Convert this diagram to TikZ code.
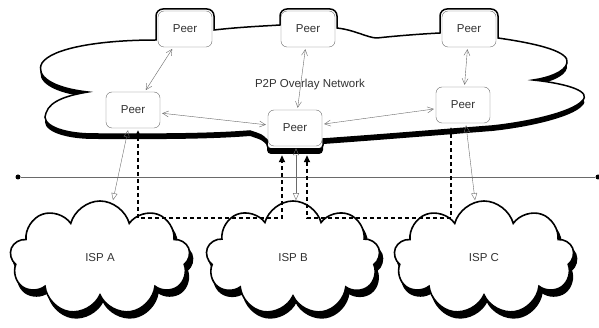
\documentclass[tikz,border=0pt]{standalone}
\usepackage{fontspec}
\setmainfont{Liberation Sans}
\usetikzlibrary{arrows.meta,shapes.symbols}

\definecolor{linkgray}{HTML}{6A6A6A}
\definecolor{textgray}{HTML}{333333}

\tikzset{
  peer/.style={draw=linkgray, fill=white, rounded corners=6pt, minimum width=54pt,
    minimum height=36pt, text=textgray, font=\fontsize{11.5}{13}\selectfont},
  isp/.style={cloud, cloud puffs=9, cloud puff arc=150, aspect=1.5, draw=black,
    line width=1.6pt, fill=white, minimum width=180pt, minimum height=114pt,
    text=textgray, font=\fontsize{11.5}{13}\selectfont},
  ispshade/.style={cloud, cloud puffs=9, cloud puff arc=150, aspect=1.5, draw=black,
    line width=1.6pt, fill=black, minimum width=180pt, minimum height=114pt},
  link/.style={draw=linkgray, thin, {Straight Barb[length=6pt,width=6pt]}-{Straight Barb[length=6pt,width=6pt]},
    shorten <=2pt, shorten >=2pt},
  access/.style={draw=linkgray, thin, {Triangle[open,length=7pt,width=6pt]}-{Triangle[open,length=7pt,width=6pt]}},
  tunnel/.style={draw=black, line width=1.6pt, dash pattern=on 4pt off 3pt,
    {Triangle[length=7pt,width=6pt]}-{Triangle[length=7pt,width=6pt]}},
  dot/.style={circle, fill=black, inner sep=0pt, minimum size=5pt}
}

\begin{document}
\begin{tikzpicture}[x=1pt, y=-1pt]
  \useasboundingbox (0,0) rectangle (599,328);

  % backbone line
  \node[dot] (left) at (18,177) {};
  \node[dot] (right) at (598,177) {};
  \draw[linkgray] (left) -- (right);

  % overlay cloud
  \def\overlay{(156,40) [rounded corners=7pt]-- (156,9) -- (214,9) [sharp corners]-- (214,30)
    .. controls (240,27) and (265,26) .. (280,25)
    [rounded corners=7pt]-- (280,9) -- (337,9) [sharp corners]-- (337,28)
    .. controls (355,30) and (368,38) .. (377,38)
    .. controls (395,36) and (420,34) .. (440,33)
    [rounded corners=7pt]-- (440,9) -- (498,9) [sharp corners]-- (498,38)
    .. controls (540,44) and (570,52) .. (567,63)
    .. controls (565,72) and (548,78) .. (533,80)
    .. controls (570,84) and (592,92) .. (582,101)
    .. controls (572,112) and (530,122) .. (492,126)
    .. controls (440,130) and (380,135) .. (323,139)
    [rounded corners=4pt]-- (323,149) -- (267,149) [sharp corners]-- (267,140)
    .. controls (262,135) .. (250,131)
    .. controls (200,135) and (130,134) .. (95,134)
    .. controls (60,134) and (40,124) .. (46,113)
    .. controls (50,100) and (70,95) .. (88,92)
    .. controls (52,88) and (35,76) .. (42,63)
    .. controls (52,48) and (100,40) .. (156,40) -- cycle}
  \fill[black, yshift=-5pt] \overlay;
  \filldraw[fill=white, draw=black, line width=1.5pt] \overlay;
  \node[text=textgray, font=\fontsize{11.5}{13}\selectfont] (label) at (310,85) {P2P Overlay Network};

  % ISP clouds
  \node[ispshade] (ispAshade) at (103,264) {};
  \node[ispshade, minimum width=174pt] (ispBshade) at (296,264) {};
  \node[ispshade] (ispCshade) at (487,264) {};
  \node[isp] (ispA) at (100,258) {ISP A};
  \node[isp, minimum width=174pt] (ispB) at (293,258) {ISP B};
  \node[isp] (ispC) at (484,258) {ISP C};

  % peers
  \node[peer] (peerTL) at (185,29) {Peer};
  \node[peer] (peerTM) at (308,29) {Peer};
  \node[peer] (peerTR) at (469,29) {Peer};
  \node[peer] (peerL) at (133,110) {Peer};
  \node[peer] (peerC) at (295,128) {Peer};
  \node[peer] (peerR) at (463,105) {Peer};

  \draw[link] (peerTL) -- (peerL);
  \draw[link] (peerTM) -- (peerC);
  \draw[link] (peerTR) -- (peerR);
  \draw[link] (peerL) -- (peerC);
  \draw[link] (peerC) -- (peerR);

  \draw[access] ([xshift=-5pt,yshift=-2pt]peerL.south) -- ([xshift=13pt]ispA.north);
  \draw[access] ([xshift=1pt,yshift=-2pt]peerC.south) -- ([xshift=3pt]ispB.north);
  \draw[access] ([xshift=3pt,yshift=-2pt]peerR.south) -- ([xshift=-9pt]ispC.north);

  \coordinate (low) at (0,218);
  \draw[tunnel] ([xshift=5pt,yshift=-2pt]peerL.south) |- ([xshift=-13pt]peerC.south |- low)
    -- ([xshift=-13pt,yshift=-9pt]peerC.south);
  \draw[tunnel] ([xshift=12pt,yshift=-9pt]peerC.south) |- ([xshift=-12pt]peerR.south |- low)
    -- ([xshift=-12pt,yshift=-4pt]peerR.south);
\end{tikzpicture}
\end{document}
